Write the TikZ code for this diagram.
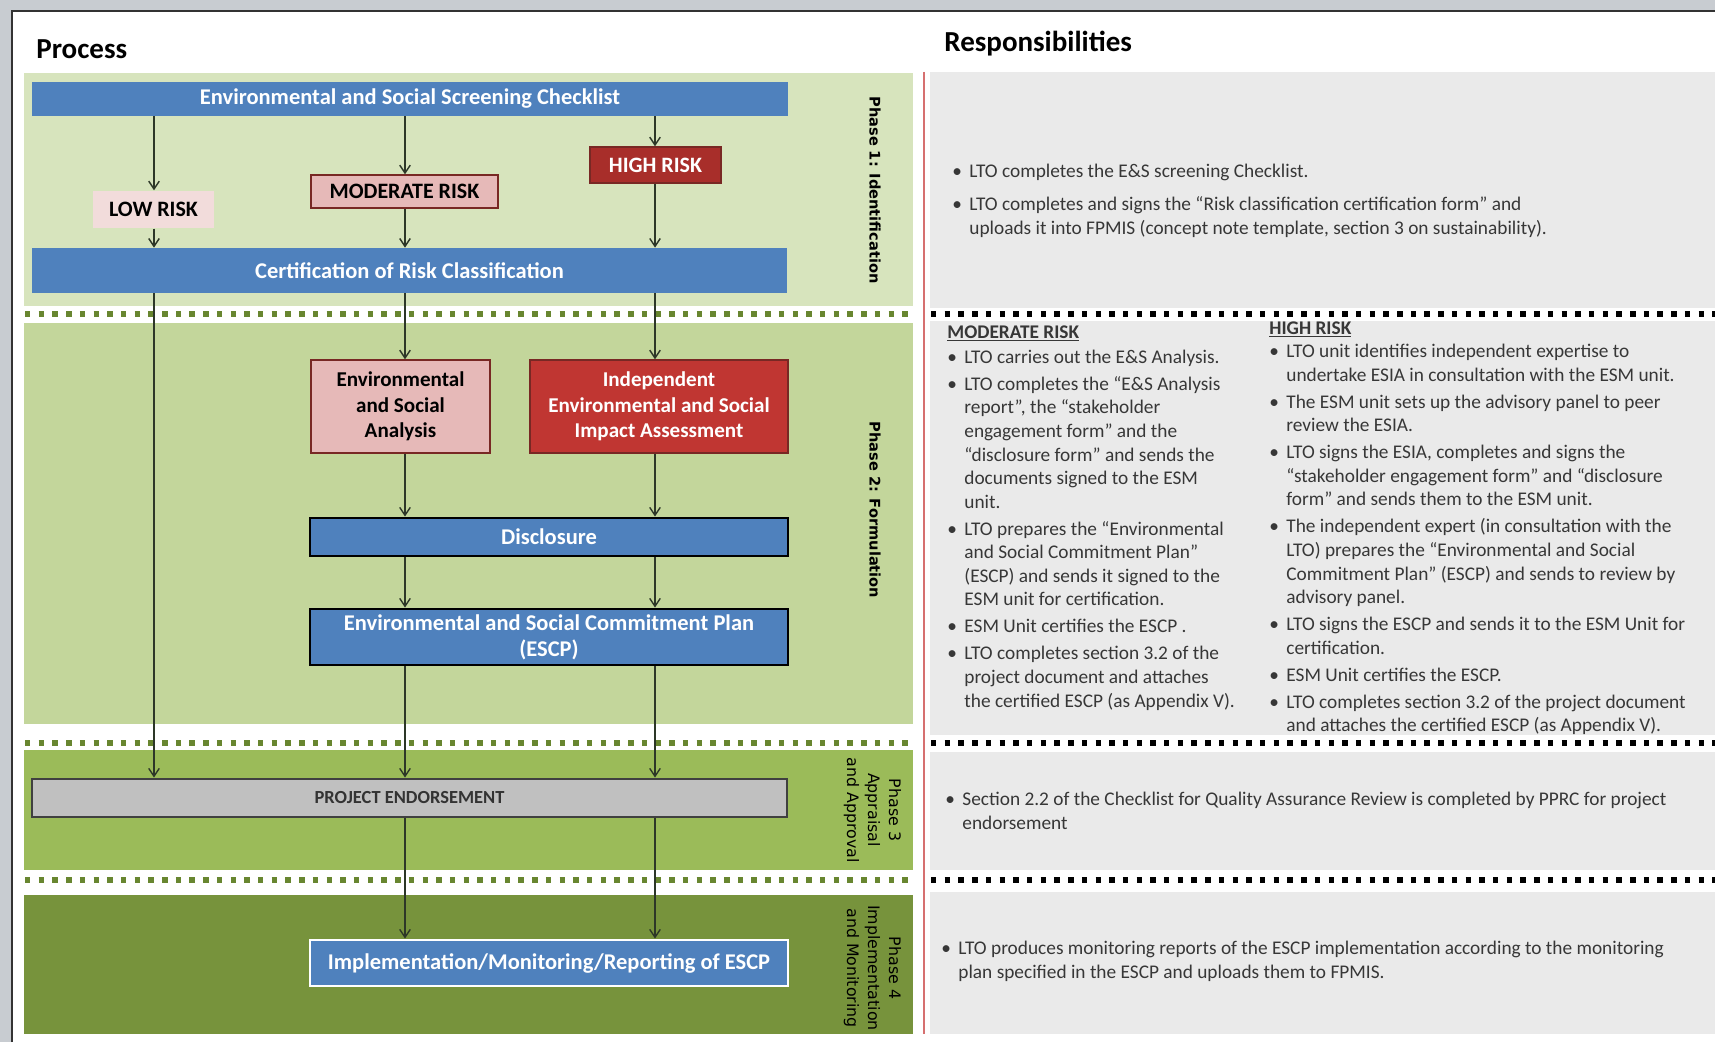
\documentclass[tikz,border=0pt]{standalone}
\usepackage{fontspec}
\setmainfont{Carlito}
\newfontfamily\phasefont{DejaVu Sans}
\usepackage{tikz}
\usetikzlibrary{arrows.meta,positioning}
\definecolor{FrameGray}{RGB}{200,204,209}
\definecolor{PanelGray}{RGB}{234,234,234}
\definecolor{PhaseOne}{RGB}{215,228,189}
\definecolor{PhaseTwo}{RGB}{195,214,155}
\definecolor{PhaseThree}{RGB}{155,187,89}
\definecolor{PhaseFour}{RGB}{119,147,60}
\definecolor{DotGreen}{RGB}{104,134,48}
\definecolor{BoxBlue}{RGB}{79,129,189}
\definecolor{LowPink}{RGB}{242,220,219}
\definecolor{ModPink}{RGB}{230,185,184}
\definecolor{HighRed}{RGB}{168,46,42}
\definecolor{AssessRed}{RGB}{192,54,50}
\definecolor{EdgeRed}{RGB}{120,40,36}
\definecolor{EndorseGray}{RGB}{192,192,192}
\definecolor{DividerRed}{RGB}{214,112,112}
\definecolor{TextGray}{RGB}{55,55,55}
\definecolor{ArrowDark}{RGB}{45,55,40}
\newcommand{\itembul}{\makebox[9.7pt][l]{\textbullet}}
\newcommand{\itemcont}{\hspace*{9.7pt}}

\begin{document}
\begin{tikzpicture}[every node/.style={align=center, inner sep=0pt},
    bar/.style={fill=BoxBlue, text=white, font=\bfseries\fontsize{12.8}{15}\selectfont},
    risk/.style={font=\bfseries\fontsize{12.5}{15}\selectfont, line width=0.8pt},
    boxed/.style={font=\bfseries\fontsize{12}{14.6}\selectfont, line width=0.8pt},
    link/.style={ArrowDark, line width=0.8pt, -{Straight Barb[length=4.5pt,width=6pt]}},
    dotsep/.style={line width=3.1pt, dash pattern=on 3.1pt off 4.7pt},
    resp/.style={anchor=north west, align=left, text=TextGray, font=\fontsize{11}{13.4}\selectfont},
    phase/.style={rotate=-90, font=\phasefont\fontsize{9}{12}\selectfont}]
          \useasboundingbox (0,0) rectangle (34.3,20.84);
          % Window frame
          \fill[FrameGray] (0,0) rectangle (34.3,20.84);
          \fill[white] (0.24,0) rectangle (34.3,20.62);
          \draw[black!80, line width=1.6pt] (0.24,0) -- (0.24,20.62) -- (34.3,20.62);
          % Column titles
          \node[anchor=west, font=\bfseries\fontsize{16.5}{19}\selectfont] (proctitle) at (0.72,19.86) {Process};
          \node[anchor=west, font=\bfseries\fontsize{16.5}{19}\selectfont] (resptitle) at (18.88,19.96) {Responsibilities};
          % Phase bands
          \fill[PhaseOne] (0.48,19.38) rectangle (18.26,14.72);
          \fill[PhaseTwo] (0.48,14.38) rectangle (18.26,6.36);
          \fill[PhaseThree] (0.48,5.84) rectangle (18.26,3.44);
          \fill[PhaseFour] (0.48,2.94) rectangle (18.26,0.16);
          % Responsibility panels
          \fill[PanelGray] (18.6,19.40) rectangle (34.3,14.68);
          \fill[PanelGray] (18.6,14.42) rectangle (34.3,6.14);
          \fill[PanelGray] (18.6,5.80) rectangle (34.3,3.44);
          \fill[PanelGray] (18.6,3.00) rectangle (34.3,0.16);
          % Dotted dividers between phases
          \draw[dotsep, DotGreen] (0.5,14.56) -- (18.26,14.56);
          \draw[dotsep, DotGreen] (0.5,5.98) -- (18.26,5.98);
          \draw[dotsep, DotGreen] (0.5,3.24) -- (18.26,3.24);
          \draw[dotsep, black] (18.62,14.56) -- (34.3,14.56);
          \draw[dotsep, black] (18.62,5.98) -- (34.3,5.98);
          \draw[dotsep, black] (18.62,3.24) -- (34.3,3.24);
          \draw[DividerRed, line width=1.2pt] (18.48,19.40) -- (18.48,0.16);
          % Phase names
          \node[phase, font=\phasefont\bfseries\fontsize{8.3}{10}\selectfont] (phaseone) at (17.5,17.04) {Phase 1: Identification};
          \node[phase, font=\phasefont\bfseries\fontsize{8.3}{10}\selectfont] (phasetwo) at (17.5,10.64) {Phase 2: Formulation};
          \node[phase] (phasethree) at (17.45,4.64) {Phase 3\\Appraisal\\and Approval};
          \node[phase] (phasefour) at (17.45,1.48) {Phase 4\\Implementation\\and Monitoring};
          % Process boxes
          \node[bar, minimum width=15.12cm, minimum height=0.68cm] (screen) at (8.2,18.86) {Environmental and Social Screening Checklist};
          \node[risk, fill=LowPink, minimum width=2.42cm, minimum height=0.74cm] (low) at (3.07,16.65) {LOW RISK};
          \node[risk, fill=ModPink, draw=EdgeRed, minimum width=3.74cm, minimum height=0.66cm] (moderate) at (8.09,17.01) {MODERATE RISK};
          \node[risk, fill=HighRed, draw=EdgeRed, text=white, minimum width=2.62cm, minimum height=0.72cm] (high) at (13.11,17.54) {HIGH RISK};
          \node[bar, minimum width=15.1cm, minimum height=0.9cm] (cert) at (8.19,15.43) {Certification of Risk Classification};
          \node[boxed, fill=ModPink, draw=EdgeRed, minimum width=3.58cm, minimum height=1.86cm] (analysis) at (8.01,12.71) {Environmental\\and Social\\Analysis};
          \node[boxed, fill=AssessRed, draw=EdgeRed, text=white, minimum width=5.16cm, minimum height=1.86cm] (esia) at (13.18,12.71) {Independent\\Environmental and Social\\Impact Assessment};
          \node[bar, draw=black, line width=1.6pt, minimum width=9.56cm, minimum height=0.76cm] (disclosure) at (10.98,10.1) {Disclosure};
          \node[bar, draw=black, line width=1.6pt, minimum width=9.56cm, minimum height=1.12cm] (escp) at (10.98,8.1) {Environmental and Social Commitment Plan\\(ESCP)};
          \node[fill=EndorseGray, draw=black!75, line width=1.6pt, text=black!80, font=\bfseries\fontsize{10.5}{12}\selectfont, minimum width=15.1cm, minimum height=0.76cm] (endorse) at (8.19,4.88) {PROJECT ENDORSEMENT};
          \node[bar, draw=white, line width=1.6pt, minimum width=9.56cm, minimum height=0.92cm] (monitor) at (10.98,1.58) {Implementation/Monitoring/Reporting of ESCP};
          % Flow columns
          \coordinate (colA) at (3.08,0);
          \coordinate (colB) at (8.1,0);
          \coordinate (colC) at (13.1,0);
          \draw[link] (screen.south -| colA) -- (low.north -| colA);
          \draw[link] (low.south -| colA) -- (cert.north -| colA);
          \draw[link] (screen.south -| colB) -- (moderate.north -| colB);
          \draw[link] (moderate.south -| colB) -- (cert.north -| colB);
          \draw[link] (screen.south -| colC) -- (high.north -| colC);
          \draw[link] (high.south -| colC) -- (cert.north -| colC);
          \draw[link] (cert.south -| colA) -- (endorse.north -| colA);
          \draw[link] (cert.south -| colB) -- (analysis.north -| colB);
          \draw[link] (cert.south -| colC) -- (esia.north -| colC);
          \draw[link] (analysis.south -| colB) -- (disclosure.north -| colB);
          \draw[link] (esia.south -| colC) -- (disclosure.north -| colC);
          \draw[link] (disclosure.south -| colB) -- (escp.north -| colB);
          \draw[link] (disclosure.south -| colC) -- (escp.north -| colC);
          \draw[link] (escp.south -| colB) -- (endorse.north -| colB);
          \draw[link] (escp.south -| colC) -- (endorse.north -| colC);
          \draw[link] (endorse.south -| colB) -- (monitor.north -| colB);
          \draw[link] (endorse.south -| colC) -- (monitor.north -| colC);
          % Responsibilities per phase
          \node[resp] (respone) at (19.04,17.56) {\itembul LTO completes the E\&S screening Checklist.\\[5.5pt]
            \itembul LTO completes and signs the “Risk classification certification form” and\\
            \itemcont uploads it into FPMIS (concept note template, section 3 on sustainability).};
          \node[resp] (respmod) at (18.94,14.34) {\underline{\textbf{MODERATE RISK}}\\[1pt]
            \itembul LTO carries out the E\&S Analysis.\\[2pt]
            \itembul LTO completes the “E\&S Analysis\\
            \itemcont report”, the “stakeholder\\
            \itemcont engagement form” and the\\
            \itemcont “disclosure form” and sends the\\
            \itemcont documents signed to the ESM\\
            \itemcont unit.\\[2pt]
            \itembul LTO prepares the “Environmental\\
            \itemcont and Social Commitment Plan”\\
            \itemcont (ESCP) and sends it signed to the\\
            \itemcont ESM unit for certification.\\[2pt]
            \itembul ESM Unit certifies the ESCP .\\[2pt]
            \itembul LTO completes section 3.2 of the\\
            \itemcont project document and attaches\\
            \itemcont the certified ESCP (as Appendix V).};
          \node[resp] (resphigh) at (25.38,14.42) {\underline{\textbf{HIGH RISK}}\\
            \itembul LTO unit identifies independent expertise to\\
            \itemcont undertake ESIA in consultation with the ESM unit.\\[2pt]
            \itembul The ESM unit sets up the advisory panel to peer\\
            \itemcont review the ESIA.\\[2pt]
            \itembul LTO signs the ESIA, completes and signs the\\
            \itemcont “stakeholder engagement form” and “disclosure\\
            \itemcont form” and sends them to the ESM unit.\\[2pt]
            \itembul The independent expert (in consultation with the\\
            \itemcont LTO) prepares the “Environmental and Social\\
            \itemcont Commitment Plan” (ESCP) and sends to review by\\
            \itemcont advisory panel.\\[2pt]
            \itembul LTO signs the ESCP and sends it to the ESM Unit for\\
            \itemcont certification.\\[2pt]
            \itembul ESM Unit certifies the ESCP.\\[2pt]
            \itembul LTO completes section 3.2 of the project document\\
            \itemcont and attaches the certified ESCP (as Appendix V).};
          \node[resp] (respthree) at (18.9,5.0) {\itembul Section 2.2 of the Checklist for Quality Assurance Review is completed by PPRC for project\\
            \itemcont endorsement};
          \node[resp] (respfour) at (18.82,2.02) {\itembul LTO produces monitoring reports of the ESCP implementation according to the monitoring\\
            \itemcont plan specified in the ESCP and uploads them to FPMIS.};
        \end{tikzpicture}
\end{document}
